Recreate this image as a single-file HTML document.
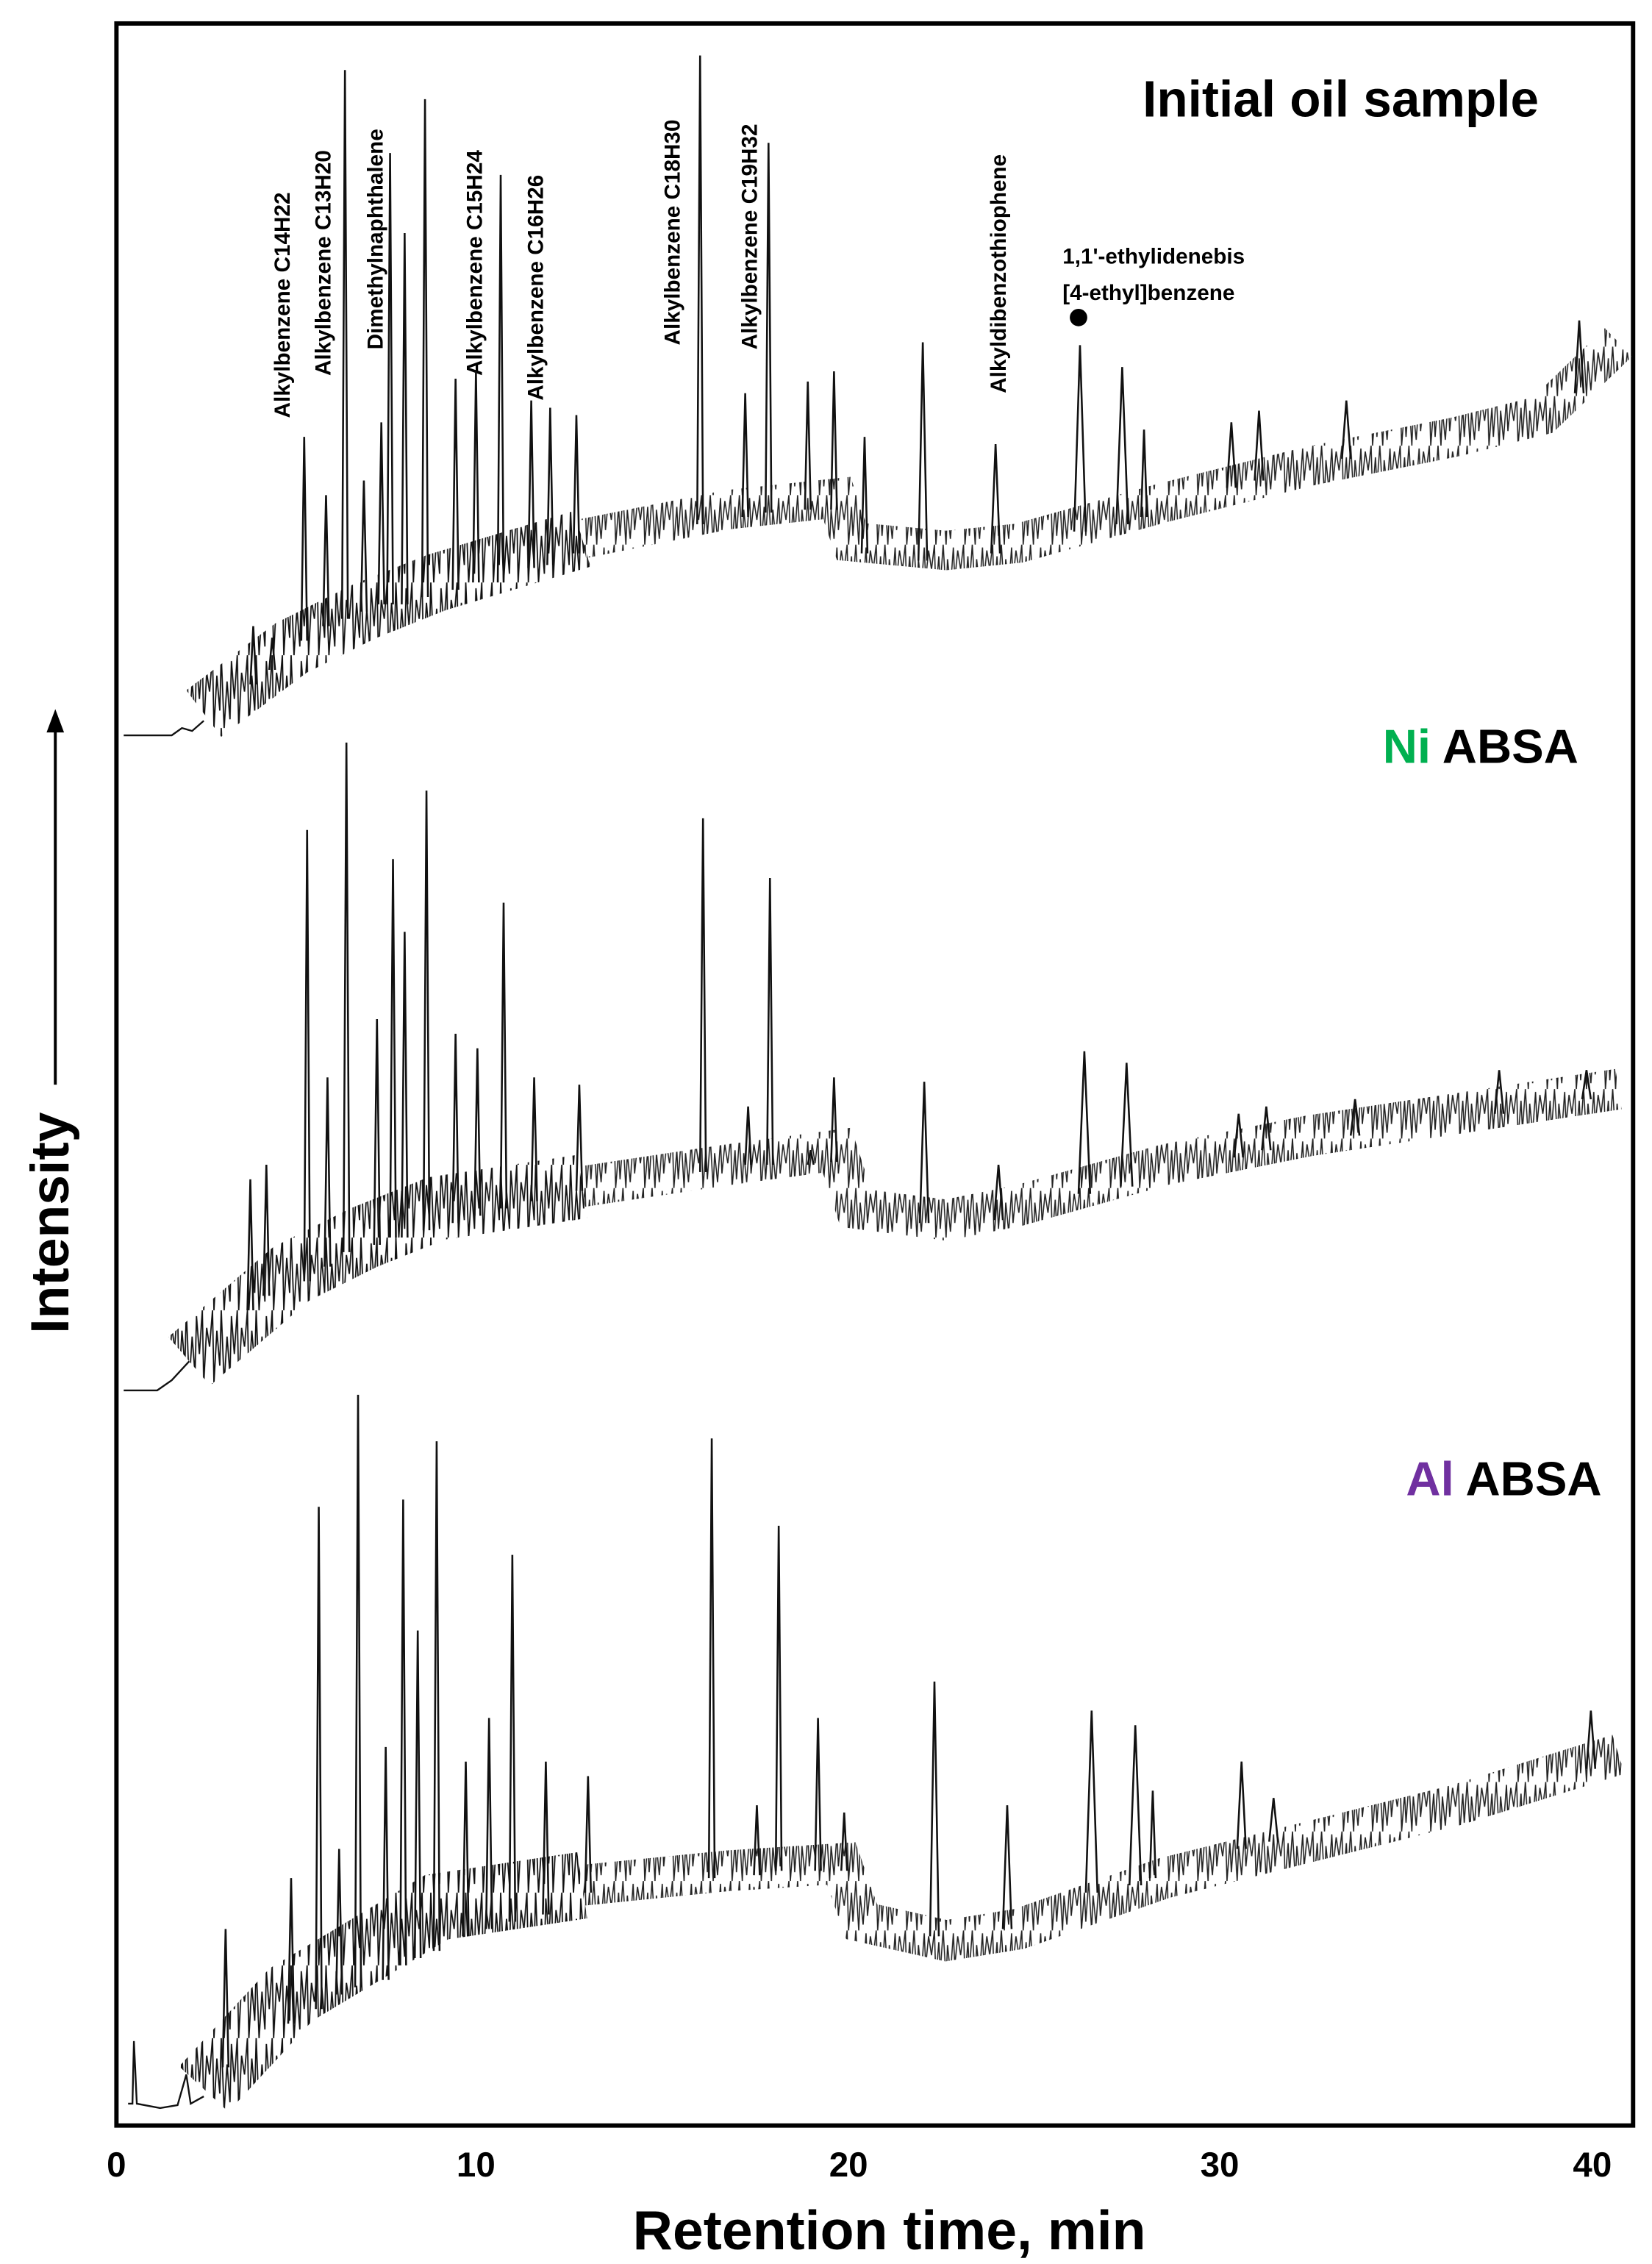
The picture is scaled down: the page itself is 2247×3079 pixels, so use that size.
<!DOCTYPE html>
<html><head><meta charset="utf-8"><style>
html,body{margin:0;padding:0;background:#fff}
svg{display:block}
text{font-family:"Liberation Sans",sans-serif}
</style></head><body>
<svg width="2247" height="3079" viewBox="0 0 1135 1555" xmlns="http://www.w3.org/2000/svg">
<defs>
<pattern id="nz" patternUnits="userSpaceOnUse" width="24" height="50">
<polyline points="0,25 2,0 3,50 5,14 7,38 8,0 10,50 12,18 14,44 15,4 17,30 19,0 20,50 22,12 24,25" fill="none" stroke="#111" stroke-width="0.9"/>
</pattern>
<pattern id="nz2" patternUnits="userSpaceOnUse" width="20" height="34">
<polyline points="0,17 2,0 3,34 5,8 6,28 8,0 10,34 11,10 13,30 15,2 16,24 18,4 20,17" fill="none" stroke="#222" stroke-width="0.8"/>
</pattern>
</defs>
<rect x="80" y="16" width="1042" height="1444" fill="none" stroke="#000" stroke-width="3"/>
<g font-size="24" font-weight="bold" text-anchor="middle">
<text x="80" y="1495">0</text><text x="327" y="1495">10</text><text x="583" y="1495">20</text><text x="838" y="1495">30</text><text x="1094" y="1495">40</text>
</g>
<text x="611" y="1545" font-size="38" font-weight="bold" text-anchor="middle">Retention time, min</text>
<text transform="translate(47,916) rotate(-90)" font-size="37" font-weight="bold">Intensity</text>
<line x1="38" y1="745" x2="38" y2="500" stroke="#000" stroke-width="2"/>
<polygon points="38,487 32,503 44,503" fill="#000"/>
<text x="785" y="80" font-size="35" font-weight="bold">Initial oil sample</text>
<text x="950" y="524" font-size="33" font-weight="bold"><tspan fill="#00b050">Ni</tspan> ABSA</text>
<text x="966" y="1027" font-size="33" font-weight="bold"><tspan fill="#7030a0">Al</tspan> ABSA</text>
<g font-size="15" font-weight="bold">
<text transform="translate(199,287) rotate(-90)">Alkylbenzene C14H22</text>
<text transform="translate(227,258) rotate(-90)">Alkylbenzene C13H20</text>
<text transform="translate(263,240) rotate(-90)">Dimethylnaphthalene</text>
<text transform="translate(331,258) rotate(-90)">Alkylbenzene C15H24</text>
<text transform="translate(373,275) rotate(-90)">Alkylbenzene C16H26</text>
<text transform="translate(467,237) rotate(-90)">Alkylbenzene C18H30</text>
<text transform="translate(520,240) rotate(-90)">Alkylbenzene C19H32</text>
<text transform="translate(691,270) rotate(-90)">Alkyldibenzothiophene</text>
<text x="730" y="181">1,1'-ethylidenebis</text>
<text x="730" y="206">[4-ethyl]benzene</text>
</g>
<circle cx="741" cy="218" r="6" fill="#000"/>

<!-- Trace 1 -->
<path d="M85,505 L118,505 L125,500 L132,502 L140,495" fill="none" stroke="#111" stroke-width="1.2"/>
<path d="M140,490 L200,445 L250,420 L300,400 L400,370" fill="none" stroke="url(#nz)" stroke-width="40"/>
<path d="M400,370 L500,350 L575,342 L585,372 L650,378 L700,373 L800,345 L900,320 L1000,300 L1060,285 L1112,235" fill="none" stroke="url(#nz2)" stroke-width="27"/>
<g fill="none" stroke="#111" stroke-width="1.3">
<path d="M172,470L174,430L176,470M185,460L187,438L189,460M207,440L209,300L211,440M222,430L224,340L226,430M235,425L237,48L239,425M248,420L250,330L252,420M260,415L262,290L264,415M266,415L268,105L270,415M276,415L278,160L280,415M290,410L292,68L294,410M311,405L313,260L315,405M325,400L327,255L329,400M342,400L344,120L346,400M363,390L365,275L367,390M376,388L378,280L380,388M394,380L396,285L398,380M479,360L481,38L483,360M510,355L512,270L514,355M526,352L528,98L530,352M553,350L555,262L557,350M571,350L573,255L575,350M592,380L594,300L596,380M631,385L634,235L637,385M681,380L684,305L687,380M738,365L742,237L746,365M767,360L771,252L775,360M784,355L786,295L788,355M843,335L846,290L849,335M862,330L865,282L868,330M922,315L925,275L928,315M1082,270L1085,220L1088,270"/>
</g>

<!-- Trace 2 -->
<path d="M85,955 L108,955 L118,948 L130,935" fill="none" stroke="#111" stroke-width="1.2"/>
<path d="M130,935 L200,875 L250,850 L300,830 L400,815" fill="none" stroke="url(#nz)" stroke-width="44"/>
<path d="M400,815 L500,800 L575,790 L588,830 L650,838 L700,828 L800,800 L900,780 L1000,765 L1112,748" fill="none" stroke="url(#nz2)" stroke-width="28"/>
<g fill="none" stroke="#111" stroke-width="1.3">
<path d="M170,900L172,810L174,900M181,890L183,800L185,890M209,880L211,570L213,880M223,870L225,740L227,870M236,860L238,510L240,860M257,855L259,700L261,855M268,850L270,590L272,850M276,850L278,640L280,850M291,845L293,543L295,845M311,840L313,710L315,840M326,835L328,720L330,835M344,830L346,620L348,830M365,825L367,740L369,825M396,818L398,745L400,818M481,805L483,562L485,805M512,800L514,760L516,800M527,800L529,603L531,800M555,800L557,790L559,800M571,798L573,740L575,798M632,840L635,743L638,840M683,838L686,800L689,838M741,820L745,722L749,820M770,815L774,730L778,815M848,795L851,765L854,795M867,790L870,760L873,790M928,780L931,755L934,780M1027,765L1030,735L1033,765M1087,755L1090,735L1093,755"/>
</g>

<!-- Trace 3 -->
<path d="M88,1445 L91,1445 L92,1402 L94,1445 L110,1448 L122,1446 L128,1425 L131,1445 L140,1440" fill="none" stroke="#111" stroke-width="1.2"/>
<path d="M140,1435 L200,1370 L250,1340 L300,1310 L400,1295" fill="none" stroke="url(#nz)" stroke-width="46"/>
<path d="M400,1295 L500,1285 L578,1280 L592,1320 L650,1333 L700,1325 L800,1290 L900,1265 L1000,1240 L1112,1205" fill="none" stroke="url(#nz2)" stroke-width="28"/>
<g fill="none" stroke="#111" stroke-width="1.3">
<path d="M153,1420L155,1325L157,1420M198,1390L200,1290L202,1390M217,1380L219,1035L221,1380M231,1370L233,1270L235,1370M244,1365L246,958L248,1365M263,1360L265,1200L267,1360M275,1350L277,1030L279,1350M285,1345L287,1120L289,1345M298,1340L300,990L302,1340M318,1330L320,1210L322,1330M334,1325L336,1180L338,1325M350,1320L352,1068L354,1320M373,1315L375,1210L377,1315M402,1300L404,1220L406,1300M487,1290L489,988L491,1290M518,1288L520,1240L522,1288M533,1285L535,1048L537,1285M560,1285L562,1180L564,1285M578,1285L580,1245L582,1285M639,1330L642,1155L645,1330M689,1325L692,1240L695,1325M746,1300L750,1175L754,1300M776,1295L780,1185L784,1295M790,1290L792,1230L794,1290M850,1270L853,1210L856,1270M872,1265L875,1235L878,1265M1090,1215L1093,1175L1096,1215"/>
</g>
</svg>
</body></html>
